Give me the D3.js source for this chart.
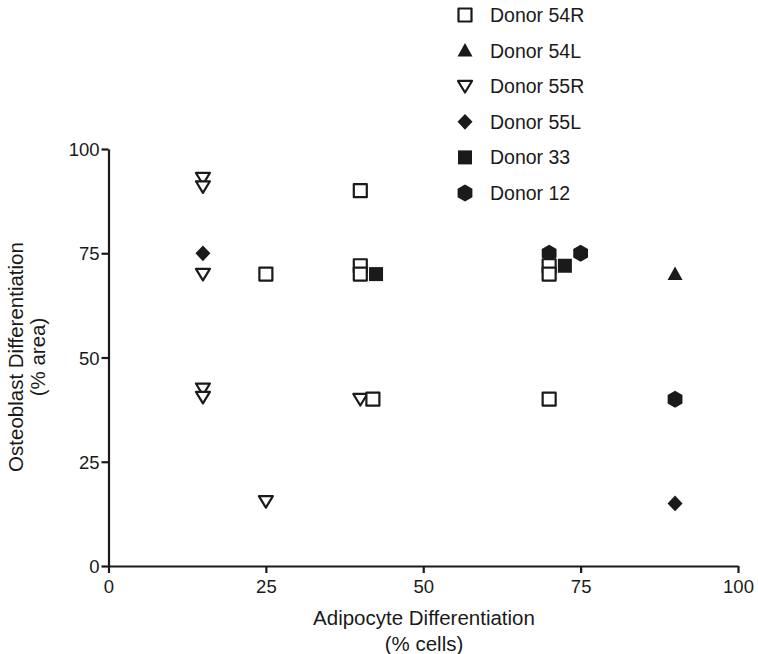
<!DOCTYPE html>
<html>
<head>
<meta charset="utf-8">
<script src="https://cdn.jsdelivr.net/npm/d3@7"></script>
<style>
  body { margin: 0; background: #fff; }
  svg text { font-family: "Liberation Sans", Arial, sans-serif; fill: #1a1a1a; }
</style>
</head>
<body>
<svg width="758" height="654"></svg>
<script>
// Data: [adipocyte %, osteoblast %] per donor
var donors = ["Donor 54R", "Donor 54L", "Donor 55R", "Donor 55L", "Donor 33", "Donor 12"];
var donor54R = [[25, 70], [40, 90], [40, 72], [40, 70], [42, 40], [70, 72], [70, 70], [70, 40]];
var donor54L = [[90, 70]];
var donor55R = [[15, 93], [15, 91], [15, 70], [15, 42.5], [15, 40.5], [25, 15.5], [40, 40]];
var donor55L = [[15, 75], [90, 15]];
var donor33 = [[42.5, 70], [72.5, 72]];
var donor12 = [[70, 75], [75, 75], [90, 40]];
var xTicks = [0, 25, 50, 75, 100];
var yTicks = [0, 25, 50, 75, 100];

var svg = d3.select("svg");
var ink = "#1a1a1a";

var x = d3.scaleLinear().domain([0, 100]).range([108.5, 738]);
var y = d3.scaleLinear().domain([0, 100]).range([566, 149]);

// custom marker shapes (size = half width)
var shapes = {
  square: { draw: function (c, r) { c.rect(-r, -r, 2 * r, 2 * r); } },
  triUp: { draw: function (c, r) { c.moveTo(0, -r); c.lineTo(r, r * 0.8); c.lineTo(-r, r * 0.8); c.closePath(); } },
  triDown: { draw: function (c, r) { c.moveTo(-r, -r * 0.75); c.lineTo(r, -r * 0.75); c.lineTo(0, r * 0.9); c.closePath(); } },
  diamond: { draw: function (c, r) { c.moveTo(0, -r * 1.05); c.lineTo(r, 0); c.lineTo(0, r * 1.05); c.lineTo(-r, 0); c.closePath(); } },
  hexagon: { draw: function (c, r) {
    c.moveTo(0, -r);
    c.lineTo(r * 0.87, -r * 0.5);
    c.lineTo(r * 0.87, r * 0.5);
    c.lineTo(0, r);
    c.lineTo(-r * 0.87, r * 0.5);
    c.lineTo(-r * 0.87, -r * 0.5);
    c.closePath();
  } }
};

var styles = {
  "Donor 54R": { shape: shapes.square, r: 6.5, fill: "#fff", stroke: true },
  "Donor 54L": { shape: shapes.triUp, r: 7.5, fill: ink, stroke: false },
  "Donor 55R": { shape: shapes.triDown, r: 7, fill: "#fff", stroke: true },
  "Donor 55L": { shape: shapes.diamond, r: 7.5, fill: ink, stroke: false },
  "Donor 33": { shape: shapes.square, r: 7, fill: ink, stroke: false },
  "Donor 12": { shape: shapes.hexagon, r: 8.5, fill: ink, stroke: false }
};

function markerPath(name) {
  var st = styles[name];
  return d3.symbol().type(st.shape).size(st.r)();
}

// axes
var xAxis = svg.append("g")
  .attr("transform", "translate(0," + y(0) + ")")
  .call(d3.axisBottom(x).tickValues(xTicks).tickSize(7).tickSizeOuter(0).tickPadding(4));
var yAxis = svg.append("g")
  .attr("transform", "translate(" + x(0) + ",0)")
  .call(d3.axisLeft(y).tickValues(yTicks).tickSize(7).tickSizeOuter(0).tickPadding(2));

[xAxis, yAxis].forEach(function (g) {
  g.select(".domain").attr("stroke", ink).attr("stroke-width", 2.2);
  g.selectAll(".tick line").attr("stroke", ink).attr("stroke-width", 2.2);
  g.selectAll(".tick text").attr("font-size", 18.5).attr("fill", ink)
    .style("font-family", "'Liberation Sans', Arial, sans-serif");
});
xAxis.selectAll(".tick text").attr("dy", "0.85em");
yAxis.selectAll(".tick text").attr("dy", "0.36em");

// axis titles
svg.append("text").attr("x", 424).attr("y", 625).attr("text-anchor", "middle")
  .attr("font-size", 20.5).text("Adipocyte Differentiation");
svg.append("text").attr("x", 424).attr("y", 651).attr("text-anchor", "middle")
  .attr("font-size", 20.5).text("(% cells)");
svg.append("text").attr("transform", "translate(23,357) rotate(-90)").attr("text-anchor", "middle")
  .attr("font-size", 20.5).text("Osteoblast Differentiation");
svg.append("text").attr("transform", "translate(45,357) rotate(-90)").attr("text-anchor", "middle")
  .attr("font-size", 20.5).text("(% area)");

// points, drawn in layering order
var layers = [["Donor 12", donor12], ["Donor 33", donor33], ["Donor 55L", donor55L],
              ["Donor 55R", donor55R], ["Donor 54L", donor54L], ["Donor 54R", donor54R]];

layers.forEach(function (l) {
  var st = styles[l[0]];
  svg.append("g").selectAll("path")
    .data(l[1])
    .enter()
    .append("path")
      .attr("d", markerPath(l[0]))
      .attr("transform", function (d) { return "translate(" + x(d[0]) + "," + y(d[1]) + ")"; })
      .attr("fill", st.fill)
      .attr("stroke", st.stroke ? ink : "none")
      .attr("stroke-width", 2.2)
      .attr("stroke-linejoin", "round");
});

// legend
var legend = svg.append("g").selectAll("g")
  .data(donors)
  .enter()
  .append("g")
    .attr("transform", function (d, i) { return "translate(465," + (15 + i * 35.6) + ")"; });

legend.append("path")
  .attr("d", function (d) { return markerPath(d); })
  .attr("fill", function (d) { return styles[d].fill; })
  .attr("stroke", function (d) { return styles[d].stroke ? ink : "none"; })
  .attr("stroke-width", 2.2)
  .attr("stroke-linejoin", "round");

legend.append("text")
  .attr("x", 25)
  .attr("y", 7)
  .attr("font-size", 19.5)
  .text(function (d) { return d; });
</script>
</body>
</html>
